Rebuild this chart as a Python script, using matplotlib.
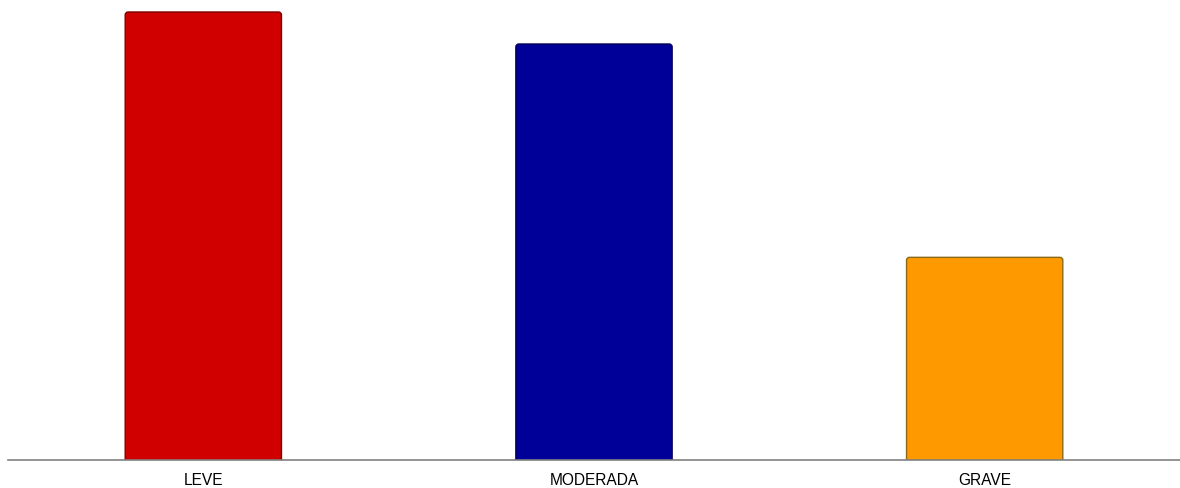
import matplotlib.pyplot as plt
from matplotlib.patches import FancyBboxPatch

categories = ["LEVE", "MODERADA", "GRAVE"]
values = [42, 39, 19]
colors = ["#D00000", "#000099", "#FF9900"]
edges = ["#7A0000", "#000055", "#8A6A1A"]

fig = plt.figure(figsize=(11.8, 4.89), dpi=100)
# axes spans from the baseline (y=461 px) up to y=5 px
ax = fig.add_axes([8 / 1180, 28 / 489, 1 - 8 / 1180, (461 - 5) / 489])

x = range(len(categories))
bars = ax.bar(x, values, width=0.4, color=colors)

# swap the plain rectangles for ones with slightly rounded top corners
px_x = 1172 / 3.0                     # pixels per x unit
top = max(values) * 456 / 448
px_y = 456 / top                      # pixels per y unit
for b, c, e in zip(bars, colors, edges):
    b.set_visible(False)
    patch = FancyBboxPatch(
        (b.get_x(), -2), b.get_width(), b.get_height() + 2,
        boxstyle="round,pad=0,rounding_size=%f" % (3 / px_x),
        mutation_aspect=px_x / px_y,
        facecolor=c, edgecolor=e, linewidth=1.0, zorder=2,
    )
    ax.add_patch(patch)

ax.set_xlim(-0.5, 2.5)
ax.set_ylim(0, top)
ax.set_xticks(list(x))
ax.set_xticklabels(categories, fontsize=11.2, fontfamily="Liberation Sans")
ax.tick_params(axis="x", length=0, pad=9)
ax.set_yticks([])

for side in ["top", "right", "left"]:
    ax.spines[side].set_visible(False)
ax.spines["bottom"].set_color("#808080")
ax.spines["bottom"].set_linewidth(1.2)
ax.spines["bottom"].set_zorder(3)

fig.savefig("out.png", dpi=100)
plt.close()
